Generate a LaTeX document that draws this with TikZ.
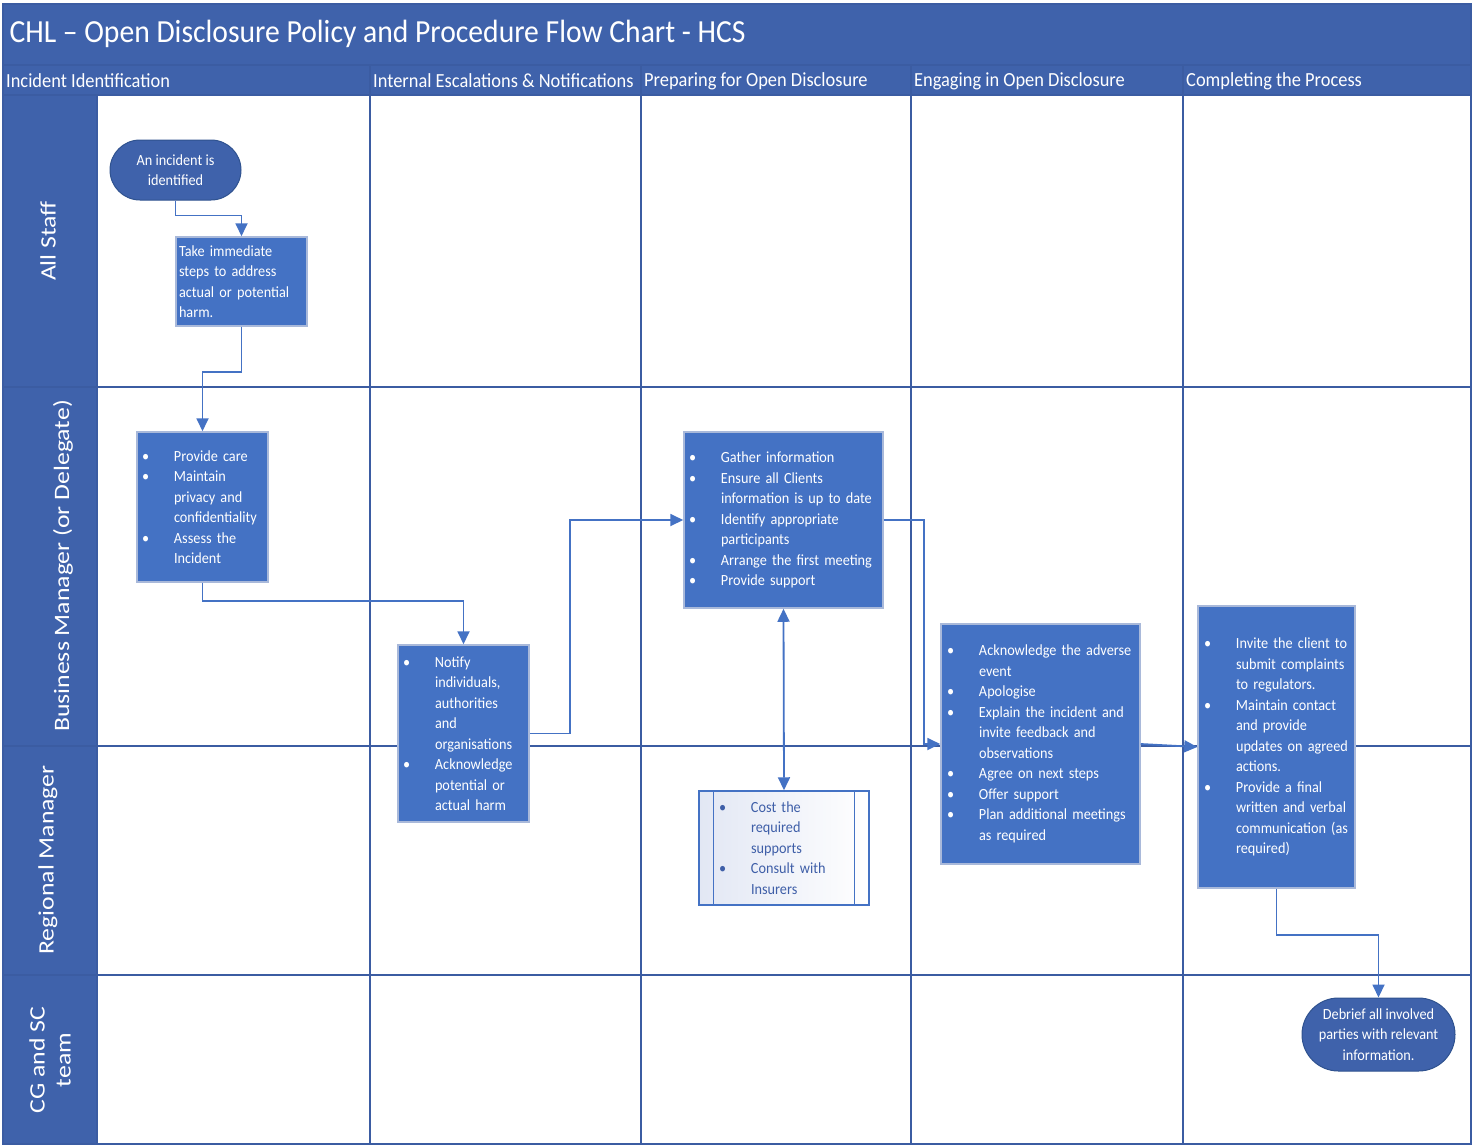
\documentclass[tikz,border=0pt]{standalone}
\usepackage{fontspec}
\setmainfont{Carlito}[FakeStretch=0.92]
\newfontfamily\lanefont{Carlito}[FakeStretch=1.17]
\usepackage{tikz}
\usetikzlibrary{arrows.meta}
\usetikzlibrary{shapes}
\usetikzlibrary{calc}
\usetikzlibrary{positioning}
\definecolor{band}{HTML}{3F62AB}
\definecolor{grid}{HTML}{3B5CA2}
\definecolor{box}{HTML}{4472C4}
\definecolor{boxline}{HTML}{A9B9DA}
\definecolor{termline}{HTML}{2F528F}
\definecolor{subtext}{HTML}{3F5FA8}
\definecolor{subtint}{HTML}{E2E7F4}
\tikzstyle{term}=[shape=rounded rectangle,draw=termline,fill=band,text=white,line width=1pt,align=center,inner sep=0pt,font=\fontsize{15.5}{20.5}\selectfont]
\tikzstyle{act}=[shape=rectangle,draw=boxline,fill=box,text=white,line width=1.5pt,align=left,inner xsep=5pt,inner ysep=0pt,font=\fontsize{15.5}{20.5}\selectfont]
\tikzstyle{sub}=[shape=rectangle,draw=box,left color=subtint,right color=white,text=subtext,line width=1.5pt,align=left,inner xsep=20pt,inner ysep=0pt,font=\fontsize{15.5}{20.5}\selectfont]
\tikzstyle{tran}=[draw=box,line width=1.8pt,->,>={Triangle[length=13pt,width=12pt]}]
\tikzstyle{lane}=[rotate=90,text=white,align=center,font=\lanefont\fontsize{22}{26}\selectfont]
\tikzstyle{phase}=[anchor=west,text=white,inner sep=3pt,font=\fontsize{20}{22}\selectfont]
\tikzstyle{gridline}=[draw=grid,line width=1.5pt]
\newcommand{\itm}[1]{\makebox[32pt][l]{\textbullet}\mbox{#1}}
\newcommand{\cnt}[1]{\hspace*{32pt}\mbox{#1}}

\begin{document}
\begin{tikzpicture}[x=1pt,y=-1pt]
\useasboundingbox (0,0) rectangle (1478,1144);

% bands and lanes
\fill[band] (3,4) rectangle (1472,95);
\fill[band] (3,95) rectangle (97,1144);
\draw[gridline] (3,4) rectangle (1471,1144);
\draw[gridline] (3,65) -- (1471,65);
\draw[gridline] (3,95) -- (1471,95);
\draw[gridline] (97,95) -- (97,1144);
\foreach \x in {370,641,911,1183}
  \draw[gridline] (\x,65) -- (\x,1144);
\foreach \y in {387,746,975}
  \draw[gridline] (3,\y) -- (1471,\y);

\node[anchor=west,text=white,font=\fontsize{32.2}{38}\selectfont] (title) at (6,34) {CHL – Open Disclosure Policy and Procedure Flow Chart - HCS};

\node[phase] (ph1) at (3,81) {Incident Identification};
\node[phase] (ph2) at (370,81) {Internal Escalations \& Notifications};
\node[phase] (ph3) at (641,81) {Preparing for Open Disclosure};
\node[phase] (ph4) at (911,81) {Engaging in Open Disclosure};
\node[phase] (ph5) at (1183,81) {Completing the Process};

\node[lane] (staff) at (48,241) {All Staff};
\node[lane] (bm) at (63,566) {Business Manager (or Delegate)};
\node[lane] (rm) at (48,860) {Regional Manager};
\node[lane] (cg) at (50,1060) {CG and SC\\team};

% steps
\node[term,minimum width=131pt,minimum height=60pt] (start) at (175.5,170) {An incident is\\identified};
\node[act,inner xsep=3pt,text width=125pt,minimum height=89pt] (take) at (241.5,281.5) {Take immediate\\steps to address\\actual or potential\\harm.};
\node[act,text width=121pt,minimum height=150pt] (care) at (202.5,507) {\itm{Provide care}\\\itm{Maintain}\\\cnt{privacy and}\\\cnt{confidentiality}\\\itm{Assess the}\\\cnt{Incident}};
\node[act,text width=121pt,minimum height=177pt] (notify) at (463.5,733.5) {\itm{Notify}\\\cnt{individuals,}\\\cnt{authorities}\\\cnt{and}\\\cnt{organisations}\\\itm{Acknowledge}\\\cnt{potential or}\\\cnt{actual harm}};
\node[act,text width=189pt,minimum height=176pt] (gather) at (783.5,520) {\itm{Gather information}\\\itm{Ensure all Clients}\\\cnt{information is up to date}\\\itm{Identify appropriate}\\\cnt{participants}\\\itm{Arrange the first meeting}\\\itm{Provide support}};
\node[sub,text width=130pt,minimum height=114pt] (cost) at (784,848) {\itm{Cost the}\\\cnt{required}\\\cnt{supports}\\\itm{Consult with}\\\cnt{Insurers}};
\draw[draw=box,line width=1.2pt] ([xshift=15pt]cost.north west) -- ([xshift=15pt]cost.south west);
\draw[draw=box,line width=1.2pt] ([xshift=-15pt]cost.north east) -- ([xshift=-15pt]cost.south east);
\node[act,inner xsep=6pt,text width=187pt,minimum height=240pt] (ack) at (1040.5,744) {\itm{Acknowledge the adverse}\\\cnt{event}\\\itm{Apologise}\\\itm{Explain the incident and}\\\cnt{invite feedback and}\\\cnt{observations}\\\itm{Agree on next steps}\\\itm{Offer support}\\\itm{Plan additional meetings}\\\cnt{as required}};
\node[act,inner xsep=6pt,text width=145pt,minimum height=282pt] (invite) at (1276.5,747) {\itm{Invite the client to}\\\cnt{submit complaints}\\\cnt{to regulators.}\\\itm{Maintain contact}\\\cnt{and provide}\\\cnt{updates on agreed}\\\cnt{actions.}\\\itm{Provide a final}\\\cnt{written and verbal}\\\cnt{communication (as}\\\cnt{required)}};
\node[term,minimum width=153pt,minimum height=73pt] (debrief) at (1378.5,1034.5) {Debrief all involved\\parties with relevant\\information.};

% flow
\draw[tran] (start.south) -- ++(0,15) -| (take.north);
\draw[tran] (take.south) -- ++(0,45) -| (care.north);
\draw[tran] (care.south) -- ++(0,18) -| (notify.north);
\draw[tran] (notify.east) -- ++(40,0) |- (gather.west);
\draw[tran] (gather.east) -- ++(40,0) |- (ack.west);
\draw[tran,<->] (gather.south) -- (cost.north);
\draw[tran] (ack.east) -- (invite.west);
\draw[tran] (invite.south) -- ++(0,46) -| (debrief.north);
\end{tikzpicture}
\end{document}
